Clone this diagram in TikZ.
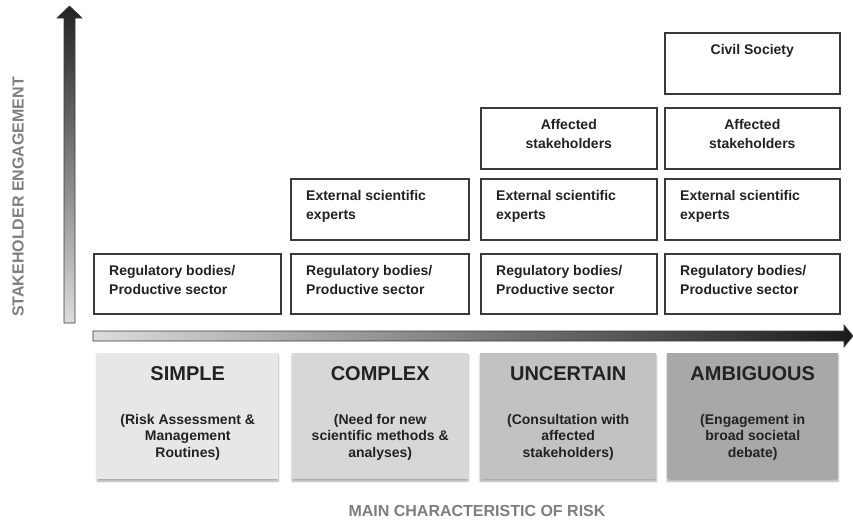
\documentclass[tikz,border=0pt]{standalone}
\usepackage{fontspec}
\setmainfont{Liberation Sans}
\usetikzlibrary{calc,shadows.blur}
\definecolor{boxline}{HTML}{3A3A3A}
\definecolor{txt}{HTML}{222222}
\definecolor{axisgray}{HTML}{7E7E7E}
\definecolor{catA}{HTML}{E7E7E9}
\definecolor{catB}{HTML}{D7D7D9}
\definecolor{catC}{HTML}{C2C2C4}
\definecolor{catD}{HTML}{A8A8AA}
\definecolor{arrowdark}{HTML}{222222}
\definecolor{arrowlight}{HTML}{DCDCDC}
\tikzset{
  frame/.style={draw=boxline, line width=1.6pt, fill=white, inner sep=0pt, anchor=north west},
  boxtxt/.style={font=\bfseries\fontsize{14}{19}\selectfont, text=txt, inner sep=0pt, align=left, anchor=north west},
  ctrtxt/.style={font=\bfseries\fontsize{14}{19}\selectfont, text=txt, inner sep=0pt, align=center, anchor=north},
  cat/.style={inner sep=0pt, anchor=north west, minimum height=126pt,
     blur shadow={shadow xshift=0pt, shadow yshift=-2pt, shadow blur radius=2pt, shadow opacity=35}},
  cattitle/.style={font=\bfseries\fontsize{20}{24}\selectfont, text=txt, inner sep=0pt, anchor=base},
  catsub/.style={font=\bfseries\fontsize{14}{16.5}\selectfont, text=txt, inner sep=0pt, align=center, anchor=north},
  axislbl/.style={font=\bfseries\fontsize{16}{19}\selectfont, text=axisgray, inner sep=0pt},
}
\begin{document}
\begin{tikzpicture}[x=1pt,y=-1pt]
\useasboundingbox (0,0) rectangle (853,520);
% axes
\shade[top color=arrowdark, bottom color=arrowlight, draw=boxline, line width=0.6pt]
  (64,323) -- (64,18) -- (57,18) -- (69.5,6) -- (82,18) -- (75,18) -- (75,323) -- cycle;
\shade[left color=arrowlight, right color=arrowdark!80!black, draw=boxline, line width=0.6pt]
  (93,331) -- (844,331) -- (844,325) -- (853,336) -- (844,347) -- (844,341) -- (93,341) -- cycle;
\node[axislbl, rotate=90] (ylab) at (18,197) {STAKEHOLDER ENGAGEMENT};
\node[axislbl] (xlab) at (477,511) {MAIN CHARACTERISTIC OF RISK};
% regulatory row
\node[frame, minimum width=187pt, minimum height=60pt] (r1) at (93,253) {};
\node[frame, minimum width=178pt, minimum height=60pt] (r2) at (290,253) {};
\node[frame, minimum width=176pt, minimum height=60pt] (r3) at (480,253) {};
\node[frame, minimum width=175pt, minimum height=60pt] (r4) at (664,253) {};
\foreach \b in {r1,r2,r3,r4}
  \node[boxtxt] (\b t) at ($(\b.north west)+(16,12)$) {Regulatory bodies/\\Productive sector};
% external row
\node[frame, minimum width=178pt, minimum height=61pt] (e2) at (290,178) {};
\node[frame, minimum width=176pt, minimum height=61pt] (e3) at (480,178) {};
\node[frame, minimum width=175pt, minimum height=61pt] (e4) at (664,178) {};
\foreach \b in {e2,e3,e4}
  \node[boxtxt] (\b t) at ($(\b.north west)+(16,12.5)$) {External scientific\\experts};
% affected row
\node[frame, minimum width=176pt, minimum height=61pt] (a3) at (480,107) {};
\node[frame, minimum width=175pt, minimum height=61pt] (a4) at (664,107) {};
\foreach \b in {a3,a4}
  \node[ctrtxt] (\b t) at ($(\b.north)+(0,12.5)$) {Affected\\stakeholders};
% civil society
\node[frame, minimum width=175pt, minimum height=61pt] (c4) at (664,32) {};
\node[ctrtxt] (c4t) at ($(c4.north)+(0,12)$) {Civil Society};
% categories
\node[cat, fill=catA, minimum width=181pt] (k1) at (97,353) {};
\node[cat, fill=catB, minimum width=176pt] (k2) at (292,353) {};
\node[cat, fill=catC, minimum width=176pt] (k3) at (480,353) {};
\node[cat, fill=catD, minimum width=171pt] (k4) at (667,353) {};
\node[cattitle] (k1h) at ($(k1.north)+(0,27)$) {SIMPLE};
\node[cattitle] (k2h) at ($(k2.north)+(0,27)$) {COMPLEX};
\node[cattitle] (k3h) at ($(k3.north)+(0,27)$) {UNCERTAIN};
\node[cattitle] (k4h) at ($(k4.north)+(0,27)$) {AMBIGUOUS};
\node[catsub] (k1s) at ($(k1.north)+(0,61)$) {(Risk Assessment \&\\Management\\Routines)};
\node[catsub] (k2s) at ($(k2.north)+(0,61)$) {(Need for new\\scientific methods \&\\analyses)};
\node[catsub] (k3s) at ($(k3.north)+(0,61)$) {(Consultation with\\affected\\stakeholders)};
\node[catsub] (k4s) at ($(k4.north)+(0,61)$) {(Engagement in\\broad societal\\debate)};
\end{tikzpicture}
\end{document}
